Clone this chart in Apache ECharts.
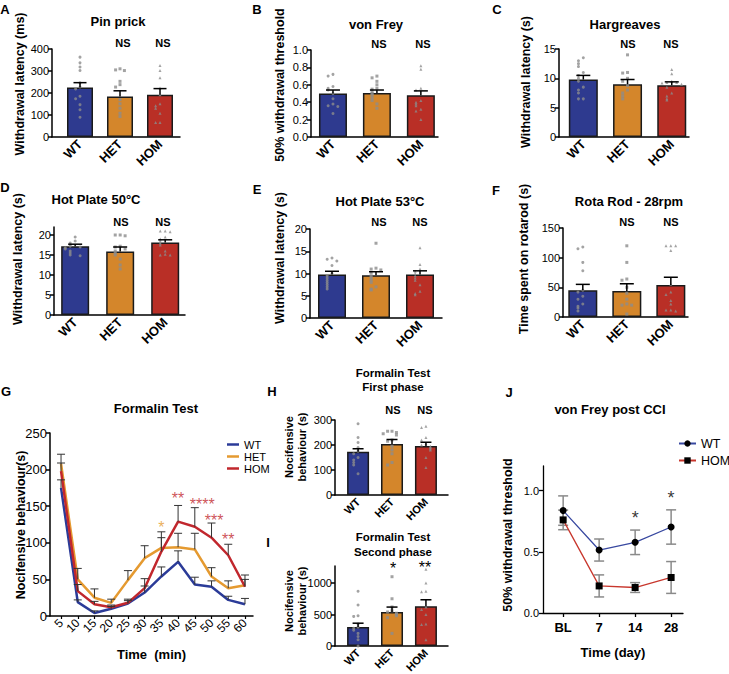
<!DOCTYPE html>
<html><head><meta charset="utf-8">
<script src="https://cdn.jsdelivr.net/npm/echarts@6/dist/echarts.min.js"></script>
<style>html,body{margin:0;padding:0;background:#fff}#c{width:729px;height:674px}</style>
</head><body><div id="c"></div>
<script>
// ---------- DATA ----------
const groups = ['WT', 'HET', 'HOM'];

// A Pin prick
const pinTicks = [0, 100, 200, 300, 400];
const pinMean = [225, 184, 192];
const pinSem = [22, 26, 28];
const pinWT = [363, 337, 318, 302, 246, 227, 218, 185, 174, 147, 124, 90];
const pinHET = [310, 305, 302, 253, 238, 227, 170, 151, 131, 108, 93];
const pinHOM = [325, 302, 269, 223, 192, 151, 142, 131, 108, 66, 66];

// B von Frey
const vfTicks = [0, 0.2, 0.4, 0.6, 0.8, 1.0];
const vfMean = [0.50, 0.505, 0.48];
const vfSem = [0.04, 0.035, 0.05];
const vfWT = [0.72, 0.70, 0.58, 0.56, 0.54, 0.50, 0.44, 0.38, 0.36, 0.35, 0.27];
const vfHET = [0.70, 0.68, 0.64, 0.60, 0.56, 0.55, 0.52, 0.50, 0.48, 0.45, 0.42, 0.38, 0.33];
const vfHOM = [0.82, 0.78, 0.56, 0.54, 0.42, 0.40, 0.38, 0.36, 0.32, 0.30, 0.20];

// C Hargreaves
const hgTicks = [0, 5, 10, 15];
const hgMean = [9.8, 9.0, 8.8];
const hgSem = [0.7, 0.8, 0.6];
const hgWT = [13.5, 13, 12.5, 12, 11, 10.5, 10, 9.5, 8.5, 8, 7.5, 6.5, 6.5];
const hgHET = [14, 11, 10.9, 10, 9.5, 8.8, 8, 7.5, 7, 6.5];
const hgHOM = [11.5, 10.8, 9.5, 9.3, 9.3, 9.2, 9, 8.5, 7.5, 7, 6.5, 6.3];

// D Hot plate 50
const hp50Ticks = [0, 5, 10, 15, 20];
const hp50Mean = [17.2, 15.9, 18.1];
const hp50Sem = [0.5, 1.1, 0.7];
const hp50WT = [19.5, 18.5, 18, 17.5, 17.2, 17, 16.8, 16.5, 16, 15.5, 15, 14.8];
const hp50HET = [20, 20, 19.8, 17.2, 17, 16.5, 16, 15.5, 15, 14, 12.5, 11.5];
const hp50HOM = [21, 21, 20.8, 19.5, 19, 18.5, 18, 17.5, 16, 15.2, 15, 15];

// E Hot plate 53
const hp53Ticks = [0, 5, 10, 15, 20];
const hp53Mean = [9.8, 9.6, 9.8];
const hp53Sem = [0.7, 0.8, 0.8];
const hp53WT = [13.5, 13.2, 12.8, 11.8, 10, 9.5, 9, 8.5, 8, 7.5, 7, 6.5];
const hp53HET = [16.8, 11.2, 11, 10.8, 10.2, 9.5, 9, 8.5, 8, 7, 6.5, 6.3];
const hp53HOM = [15.8, 12, 11, 10.5, 10, 9.5, 9, 8.5, 7.5, 6, 5.5, 5.2];

// F Rota rod
const rrTicks = [0, 50, 100, 150];
const rrMean = [45, 44, 54];
const rrSem = [10, 12, 13];
const rrWT = [118, 115, 92, 78, 45, 42, 35, 30, 22, 18, 15, 10];
const rrHET = [120, 92, 64, 62, 50, 40, 30, 22, 20, 20, 5];
const rrHOM = [120, 120, 120, 112, 55, 42, 38, 28, 22, 12, 12, 10];

// G Formalin time course
const gTimes = [5, 10, 15, 20, 25, 30, 35, 40, 45, 50, 55, 60];
const gYTicks = [0, 50, 100, 150, 200, 250];
const gWT = [175, 19, 4, 10, 17, 32, 54, 74, 43, 40, 22, 16];
const gWTsem = [11, 3, 3, 3, 6, 9, 13, 15, 10, 8, 5, 8];
const gHET = [208, 50, 25, 18, 49, 79, 93, 94, 91, 54, 38, 42];
const gHETsem = [13, 15, 12, 5, 13, 17, 14, 19, 22, 12, 10, 8];
const gHOM = [198, 34, 16, 12, 18, 38, 88, 129, 122, 107, 83, 40];
const gHOMsem = [11, 9, 4, 3, 3, 13, 27, 22, 26, 20, 15, 16];
const gStarX = [35, 40, 47.2, 50.8, 55];
const gStarY = [127, 166, 159, 136, 110];
const gStarText = ['*', '**', '****', '***', '**'];

// H Formalin first phase
const f1Ticks = [0, 100, 200, 300];
const f1Mean = [173, 204, 196];
const f1Sem = [12, 18, 15];
const f1WT = [285, 230, 210, 190, 175, 165, 150, 140, 130, 120, 85];
const f1HET = [255, 255, 250, 245, 240, 220, 215, 195, 180, 165, 130, 120];
const f1HOM = [275, 270, 230, 220, 205, 200, 195, 190, 185, 180, 150, 110];

// I Formalin second phase
const f2Ticks = [0, 500, 1000];
const f2Mean = [300, 540, 630];
const f2Sem = [62, 78, 104];
const f2WT = [870, 650, 480, 470, 350, 300, 280, 250, 200, 150, 100, 0];
const f2HET = [1100, 750, 620, 560, 540, 520, 500, 480, 450, 200];
const f2HOM = [1220, 1000, 870, 860, 620, 580, 500, 350, 340, 100];

// J von Frey post CCI
const jCats = ['BL', '7', '14', '28'];
const jYTicks = [0, 0.5, 1.0];
const jWT = [0.836, 0.514, 0.577, 0.702];
const jWTsem = [0.12, 0.09, 0.10, 0.14];
const jHOM = [0.76, 0.221, 0.208, 0.29];
const jHOMsem = [0.08, 0.09, 0.04, 0.13];
const jStarY = [0.82, 0.98];

// ---------- BUILD ----------
const FONT = 'Liberation Sans, Arial, Helvetica, sans-serif';
const barColors = ['#2e3a8f', '#d4862b', '#b92f26'];
const lineColors = ['#2b3b98', '#e59a30', '#c1272d'];
const dotSymbols = ['circle', 'rect', 'triangle'];
const grids = [], xAxes = [], yAxes = [], series = [], graphics = [];
const CLEAR = 'rgba(0,0,0,0)';

function swarm(vals, c, tol, dx) {
  const placed = [];
  return vals.map(v => {
    const n = placed.filter(p => Math.abs(p - v) < tol).length;
    placed.push(v);
    const off = n === 0 ? 0 : (n % 2 ? -1 : 1) * Math.ceil(n / 2) * dx;
    return [c + off, v];
  });
}

function errRender(capW, color, lw, both) {
  return function (params, api) {
    const x = api.value(0), m = api.value(1), s = api.value(2);
    const top = api.coord([x, m + s]);
    const mid = api.coord([x, m]);
    const bot = both ? api.coord([x, m - s]) : mid;
    const h = capW / 2;
    const st = { stroke: color, lineWidth: lw };
    const ch = [
      { type: 'line', shape: { x1: top[0], y1: top[1], x2: bot[0], y2: bot[1] }, style: st },
      { type: 'line', shape: { x1: top[0] - h, y1: top[1], x2: top[0] + h, y2: top[1] }, style: st }
    ];
    if (both) ch.push({ type: 'line', shape: { x1: bot[0] - h, y1: bot[1], x2: bot[0] + h, y2: bot[1] }, style: st });
    return { type: 'group', children: ch };
  };
}

function addAxes(g, xCfg, yCfg) {
  grids.push(Object.assign({ containLabel: false, outerBoundsMode: 'none' }, g));
  const i = grids.length - 1;
  xAxes.push(Object.assign({ gridIndex: i }, xCfg));
  yAxes.push(Object.assign({ gridIndex: i }, yCfg));
  return i;
}

const axLine = (w) => ({ show: true, onZero: false, lineStyle: { color: '#000', width: w || 1.5 } });

function barPanel(p) {
  const i = addAxes({ left: p.left, top: p.top, width: p.width, height: p.height },
    {
      type: 'value', min: p.xMin, max: p.xMax, axisLine: axLine(), axisTick: { show: false }, splitLine: { show: false },
      axisLabel: { customValues: [1, 2, 3], formatter: v => groups[Math.round(v) - 1], rotate: 45, fontSize: p.xls || 13,
        fontWeight: 'bold', color: '#000', fontFamily: FONT, margin: 5 }
    },
    {
      type: 'value', min: 0, max: p.yMax, axisLine: axLine(), splitLine: { show: false },
      axisTick: { show: true, customValues: p.yTicks, length: 4, lineStyle: { color: '#000', width: 1.5 } },
      axisLabel: { customValues: p.yTicks, formatter: p.yFmt || (v => String(v)), fontSize: p.yls || 11, color: '#000', fontFamily: FONT, margin: 3 }
    });
  series.push({ type: 'bar', xAxisIndex: i, yAxisIndex: i, barWidth: p.barW, animation: false, z: 2,
    itemStyle: { borderColor: '#1a1a1a', borderWidth: 1.5 },
    data: p.means.map((m, k) => ({ value: [k + 1, m], itemStyle: { color: barColors[k] } })) });
  p.dots.forEach((vals, k) => {
    series.push({ type: 'scatter', xAxisIndex: i, yAxisIndex: i, symbol: dotSymbols[k], symbolSize: 3, animation: false, z: 3,
      itemStyle: { color: '#8c8c8c' }, data: swarm(vals, k + 1, p.yMax * 0.035, p.dx || 0.11) });
  });
  series.push({ type: 'custom', xAxisIndex: i, yAxisIndex: i, renderItem: errRender(p.capW, '#000', 1.5, false), animation: false, z: 4,
    data: p.means.map((m, k) => [k + 1, m, p.sems[k]]) });
}

const fix1 = v => v.toFixed(1);
barPanel({ left: 52, top: 49, width: 128, height: 88, xMin: 0.3, xMax: 3.5, yMax: 400, yTicks: pinTicks, means: pinMean, sems: pinSem, dots: [pinWT, pinHET, pinHOM], barW: 26, capW: 13 });
barPanel({ left: 311, top: 50, width: 127, height: 87, xMin: 0.5, xMax: 3.39, yMax: 1.0, yTicks: vfTicks, yFmt: fix1, means: vfMean, sems: vfSem, dots: [vfWT, vfHET, vfHOM], barW: 28, capW: 14 });
barPanel({ left: 559, top: 49, width: 130, height: 88, xMin: 0.45, xMax: 3.39, yMax: 15, yTicks: hgTicks, means: hgMean, sems: hgSem, dots: [hgWT, hgHET, hgHOM], barW: 29, capW: 14 });
barPanel({ left: 54, top: 227, width: 131, height: 88, xMin: 0.53, xMax: 3.44, yMax: 22, yTicks: hp50Ticks, means: hp50Mean, sems: hp50Sem, dots: [hp50WT, hp50HET, hp50HOM], barW: 28, capW: 14 });
barPanel({ left: 310, top: 229, width: 132, height: 89, xMin: 0.5, xMax: 3.5, yMax: 20, yTicks: hp53Ticks, means: hp53Mean, sems: hp53Sem, dots: [hp53WT, hp53HET, hp53HOM], barW: 28, capW: 14 });
barPanel({ left: 563, top: 228, width: 125, height: 89, xMin: 0.55, xMax: 3.39, yMax: 150, yTicks: rrTicks, means: rrMean, sems: rrSem, dots: [rrWT, rrHET, rrHOM], barW: 29, capW: 14 });
barPanel({ left: 335, top: 420, width: 113, height: 75, xMin: 0.32, xMax: 3.65, yMax: 300, yTicks: f1Ticks, means: f1Mean, sems: f1Sem, dots: [f1WT, f1HET, f1HOM], barW: 22, capW: 11, xls: 11, dx: 0.13 });
barPanel({ left: 335, top: 566, width: 113, height: 80, xMin: 0.32, xMax: 3.65, yMax: 1270, yTicks: f2Ticks, means: f2Mean, sems: f2Sem, dots: [f2WT, f2HET, f2HOM], barW: 22, capW: 11, xls: 11, dx: 0.13 });

// G
const gi = addAxes({ left: 50, top: 433, width: 203, height: 183 },
  {
    type: 'value', min: 1.7, max: 62.4, axisLine: axLine(), splitLine: { show: false },
    axisTick: { show: true, customValues: gTimes, length: 3, lineStyle: { color: '#000', width: 1.2 } },
    axisLabel: { customValues: gTimes, rotate: 45, fontSize: 12, color: '#000', fontFamily: FONT, margin: 5 },
    name: 'Time  (min)', nameLocation: 'middle', nameGap: 32,
    nameTextStyle: { fontWeight: 'bold', fontSize: 13, color: '#000', fontFamily: FONT }
  },
  {
    type: 'value', min: 0, max: 250, axisLine: axLine(), splitLine: { show: false },
    axisTick: { show: true, customValues: gYTicks, length: 4, lineStyle: { color: '#000', width: 1.5 } },
    axisLabel: { customValues: gYTicks, fontSize: 13, color: '#000', fontFamily: FONT, margin: 3 }
  });
[[gWT, gWTsem], [gHET, gHETsem], [gHOM, gHOMsem]].forEach((pair, k) => {
  series.push({ type: 'line', name: groups[k], xAxisIndex: gi, yAxisIndex: gi, symbol: 'none', animation: false, z: 2,
    lineStyle: { color: lineColors[k], width: 2.5 }, itemStyle: { color: lineColors[k] },
    data: gTimes.map((t, n) => [t, pair[0][n]]) });
  series.push({ type: 'custom', xAxisIndex: gi, yAxisIndex: gi, renderItem: errRender(8, '#333', 1, false), animation: false, z: 3,
    data: gTimes.map((t, n) => [t, pair[0][n], pair[1][n]]) });
});
series.push({ type: 'scatter', xAxisIndex: gi, yAxisIndex: gi, symbolSize: 2, itemStyle: { color: CLEAR }, animation: false, z: 5,
  label: { show: true, position: 'inside', fontSize: 16, fontFamily: FONT, offset: [0, 4.5] },
  data: gStarX.map((x, k) => ({ value: [x, gStarY[k]], label: { formatter: gStarText[k], color: k === 0 ? lineColors[1] : lineColors[2] } })) });

// J
const ji = addAxes({ left: 543, top: 466, width: 140, height: 147 },
  {
    type: 'value', min: -0.56, max: 3.33, axisLine: axLine(1.3), splitLine: { show: false },
    axisTick: { show: true, customValues: [0, 1, 2, 3], length: 4, lineStyle: { color: '#000', width: 1.3 } },
    axisLabel: { customValues: [0, 1, 2, 3], formatter: v => jCats[Math.round(v)], fontSize: 13, fontWeight: 'bold', color: '#000', fontFamily: FONT, margin: 8 },
    name: 'Time (day)', nameLocation: 'middle', nameGap: 33,
    nameTextStyle: { fontWeight: 'bold', fontSize: 13, color: '#000', fontFamily: FONT }
  },
  {
    type: 'value', min: 0, max: 1.2, axisLine: axLine(1.3), splitLine: { show: false },
    axisTick: { show: true, customValues: jYTicks, length: 4, lineStyle: { color: '#000', width: 1.3 } },
    axisLabel: { customValues: jYTicks, formatter: fix1, fontSize: 11, color: '#000', fontFamily: FONT, margin: 4 }
  });
series.push({ type: 'custom', xAxisIndex: ji, yAxisIndex: ji, renderItem: errRender(10, '#8a8a8a', 1.5, true), animation: false, z: 2,
  data: jWT.map((v, n) => [n, v, jWTsem[n]]) });
series.push({ type: 'custom', xAxisIndex: ji, yAxisIndex: ji, renderItem: errRender(10, '#8a8a8a', 1.5, true), animation: false, z: 2,
  data: jHOM.map((v, n) => [n, v, jHOMsem[n]]) });
series.push({ type: 'line', name: 'J-WT', xAxisIndex: ji, yAxisIndex: ji, symbol: 'circle', symbolSize: 7, animation: false, z: 5,
  lineStyle: { color: '#3848a0', width: 1.3 }, itemStyle: { color: '#000' }, data: jWT.map((v, n) => [n, v]) });
series.push({ type: 'line', name: 'J-HOM', xAxisIndex: ji, yAxisIndex: ji, symbol: 'rect', symbolSize: 7, animation: false, z: 5,
  lineStyle: { color: '#c8372d', width: 1.3 }, itemStyle: { color: '#000' }, data: jHOM.map((v, n) => [n, v]) });
series.push({ type: 'scatter', xAxisIndex: ji, yAxisIndex: ji, symbolSize: 2, itemStyle: { color: CLEAR }, animation: false, z: 6,
  label: { show: true, position: 'inside', fontSize: 18, fontFamily: FONT, color: '#000', formatter: '*', offset: [0, 5] },
  data: [[2, jStarY[0]], [3, jStarY[1]]] });

// ---------- TEXTS ----------
function T(text, x, y, size, bold, opts) {
  opts = opts || {};
  graphics.push({ type: 'text', x: x, y: y, rotation: opts.rot ? Math.PI / 2 : 0, silent: true, z: 10,
    style: { text: text, fontSize: size, fontWeight: bold ? 'bold' : 'normal', fontFamily: FONT, fill: opts.color || '#000',
      align: 'center', verticalAlign: 'middle' } });
}
[['A', 5, 9], ['B', 257, 9], ['C', 497, 9], ['D', 5, 187], ['E', 257, 189], ['F', 496, 190], ['G', 6, 391], ['H', 272, 391], ['I', 268, 542], ['J', 509, 392]]
  .forEach(a => T(a[0], a[1], a[2], 13, true));
[['Pin prick', 118, 21], ['von Frey', 376, 24], ['Hargreaves', 625, 24], ['Hot Plate 50°C', 96, 199], ['Hot Plate 53°C', 380, 201],
 ['Rota Rod - 28rpm', 629, 201], ['Formalin Test', 156, 408], ['von Frey post CCI', 610, 409]]
  .forEach(a => T(a[0], a[1], a[2], 13, true));
[['Formalin Test', 393, 373], ['First phase', 393, 387], ['Formalin Test', 393, 537], ['Second phase', 393, 552]]
  .forEach(a => T(a[0], a[1], a[2], 11.5, true));
[[123, 43], [163, 43], [379, 44], [423, 44], [628, 44], [671, 44], [121, 222], [163, 222], [379, 222], [420, 222], [627, 222], [671, 222], [393, 410], [425, 410]]
  .forEach(a => T('NS', a[0], a[1], 11, true));
T('*', 393, 568, 16, false);
T('**', 425, 567, 16, false);
[['Withdrawal latency (ms)', 20, 84], ['50% withdrawal threshold', 280, 85], ['Withdrawal latency (s)', 526, 82],
 ['Withdrawal latency (s)', 18, 259], ['Withdrawal latency (s)', 280, 258], ['Time spent on rotarod (s)', 524, 259],
 ['Nocifensive behaviour(s)', 21, 525], ['50% withdrawal threshold', 508, 535]]
  .forEach(a => T(a[0], a[1], a[2], 12.5, true, { rot: true }));
[['Nocifensive', 289, 447], ['behaviour (s)', 302, 447], ['Nocifensive', 289, 601], ['behaviour (s)', 302, 601]]
  .forEach(a => T(a[0], a[1], a[2], 11, true, { rot: true }));

const chart = echarts.init(document.getElementById('c'), null, { renderer: 'svg', width: 729, height: 674 });
chart.setOption({
  backgroundColor: '#fff',
  animation: false,
  textStyle: { fontFamily: FONT },
  grid: grids, xAxis: xAxes, yAxis: yAxes, series: series, graphic: graphics,
  legend: [
    { orient: 'vertical', left: 222, top: 434, icon: 'rect', itemWidth: 12, itemHeight: 2.5, itemGap: 1, data: groups,
      textStyle: { fontSize: 11, color: '#000', fontFamily: FONT } },
    { orient: 'vertical', left: 673, top: 432, itemWidth: 17, itemHeight: 8, itemGap: 4, data: ['J-WT', 'J-HOM'],
      formatter: n => n.slice(2), textStyle: { fontSize: 12.5, color: '#000', fontFamily: FONT } }
  ]
});
</script></body></html>
